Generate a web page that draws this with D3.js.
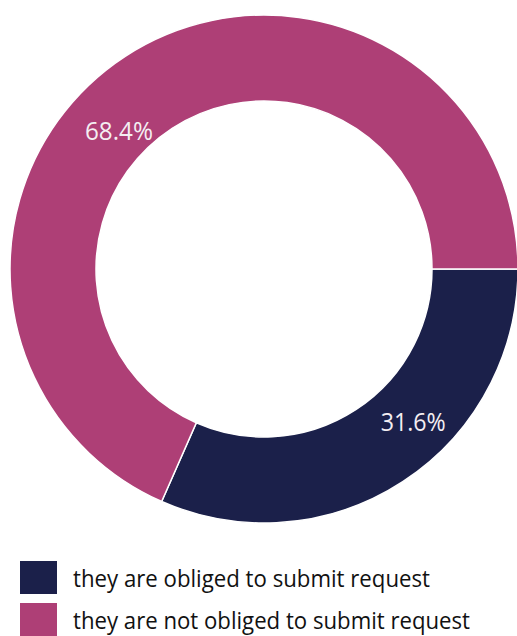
<!DOCTYPE html>
<html>
<head>
<meta charset="utf-8">
<script src="https://cdn.jsdelivr.net/npm/d3@7/dist/d3.min.js"></script>
<style>
  html, body { margin: 0; padding: 0; background: #fff; }
  svg { display: block; font-family: "Open Sans", "Noto Sans", sans-serif; }
</style>
</head>
<body>
<svg id="chart" width="517" height="636"></svg>
<script>
// Share of respondents by whether they must submit a request
const categories = ["they are obliged to submit request", "they are not obliged to submit request"];
const shares = [31.6, 68.4];
const labels = ["31.6%", "68.4%"];
const colors = ["#1b204a", "#ae3f76"];

const svg = d3.select("#chart");
const cx = 264, cy = 269;
const outerR = 254, innerR = 168;

const color = d3.scaleOrdinal().domain(categories).range(colors);

// Slices start at 3 o'clock and run clockwise
const pie = d3.pie()
  .sort(null)
  .value(d => d.value)
  .startAngle(Math.PI / 2)
  .endAngle(Math.PI / 2 + 2 * Math.PI);

const data = categories.map((c, i) => ({ name: c, value: shares[i], label: labels[i] }));
const arcs = pie(data);

const arc = d3.arc().innerRadius(innerR).outerRadius(outerR);

const g = svg.append("g").attr("transform", `translate(${cx},${cy})`);

g.selectAll("path.slice")
  .data(arcs)
  .join("path")
  .attr("class", "slice")
  .attr("d", arc)
  .attr("fill", d => color(d.data.name))
  .attr("stroke", "#ffffff")
  .attr("stroke-width", 1.5);

// Value labels sit inside the ring, part-way along each slice
const labelPlace = [{ frac: 0.40, r: 213 }, { frac: 0.447, r: 201 }];
g.selectAll("text.value")
  .data(arcs)
  .join("text")
  .attr("class", "value")
  .attr("x", (d, i) => {
    const a = d.startAngle + (d.endAngle - d.startAngle) * labelPlace[i].frac;
    return Math.sin(a) * labelPlace[i].r;
  })
  .attr("y", (d, i) => {
    const a = d.startAngle + (d.endAngle - d.startAngle) * labelPlace[i].frac;
    return -Math.cos(a) * labelPlace[i].r;
  })
  .attr("text-anchor", "middle")
  .attr("dominant-baseline", "central")
  .attr("fill", "#f4eef2")
  .attr("font-size", 25)
  .attr("textLength", (d, i) => i === 0 ? 65 : 68)
  .attr("lengthAdjust", "spacingAndGlyphs")
  .text(d => d.data.label);

// Legend
const legend = svg.append("g").attr("transform", "translate(20,561)");
const rowH = 42;
const rows = legend.selectAll("g.row")
  .data(categories)
  .join("g")
  .attr("class", "row")
  .attr("transform", (d, i) => `translate(0,${i * rowH})`);

rows.append("rect")
  .attr("width", 37)
  .attr("height", 33)
  .attr("fill", d => color(d));

rows.append("text")
  .attr("x", 53)
  .attr("y", 26)
  .attr("fill", "#111111")
  .attr("font-size", 23)
  .attr("textLength", (d, i) => i === 0 ? 357 : 397)
  .attr("lengthAdjust", "spacingAndGlyphs")
  .text(d => d);
</script>
</body>
</html>
